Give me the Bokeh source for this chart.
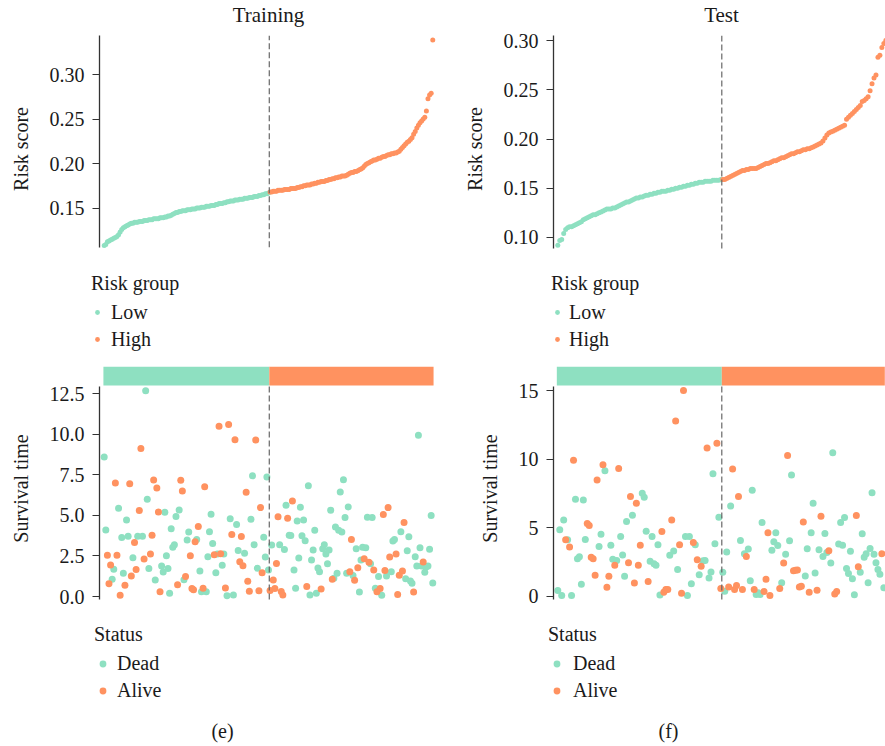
from bokeh.plotting import figure
from bokeh.layouts import row, column
from bokeh.models import (Legend, LegendItem, FixedTicker, Range1d, Label, NumeralTickFormatter)
from bokeh.embed import file_html
from bokeh.resources import INLINE

FONT = "Liberation Serif"
GREEN = "#8EE0C1"
ORANGE = "#FF9260"
FS = "20px"
TXT = "#1a1a1a"
NAN = float("nan")

# ---------------- data ----------------
panel_titles = ["Training", "Test"]
panel_captions = ["(e)", "(f)"]

train_risk_low = [0.108, 0.109, 0.112, 0.113, 0.114, 0.115, 0.116, 0.117, 0.118, 0.120,
                  0.123, 0.126, 0.128, 0.129, 0.130, 0.131, 0.132, 0.133, 0.133, 0.134,
                  0.134, 0.134, 0.135, 0.135, 0.135, 0.136, 0.136, 0.136, 0.137, 0.137,
                  0.137, 0.138, 0.138, 0.138, 0.138, 0.139, 0.139, 0.139, 0.140, 0.140,
                  0.141, 0.141, 0.142, 0.143, 0.144, 0.145, 0.145, 0.146, 0.146, 0.147,
                  0.147, 0.147, 0.148, 0.148, 0.148, 0.149, 0.149, 0.149, 0.150, 0.150,
                  0.150, 0.151, 0.151, 0.151, 0.152, 0.152, 0.152, 0.153, 0.153, 0.153,
                  0.154, 0.154, 0.155, 0.155, 0.155, 0.156, 0.156, 0.157, 0.157, 0.158,
                  0.158, 0.158, 0.159, 0.159, 0.159, 0.160, 0.160, 0.160, 0.161, 0.161,
                  0.161, 0.162, 0.162, 0.162, 0.163, 0.163, 0.163, 0.164, 0.164, 0.165,
                  0.165, 0.166, 0.166, 0.167]
train_risk_high = [0.168, 0.168, 0.169, 0.169, 0.169, 0.170, 0.170, 0.170, 0.170, 0.171,
                   0.171, 0.171, 0.171, 0.172, 0.172, 0.172, 0.172, 0.173, 0.173, 0.174,
                   0.174, 0.175, 0.175, 0.176, 0.176, 0.176, 0.177, 0.177, 0.178, 0.178,
                   0.179, 0.179, 0.180, 0.180, 0.180, 0.181, 0.181, 0.182, 0.182, 0.183,
                   0.183, 0.184, 0.184, 0.185, 0.185, 0.186, 0.186, 0.186, 0.187, 0.188,
                   0.189, 0.190, 0.190, 0.191, 0.191, 0.192, 0.193, 0.194, 0.195, 0.197,
                   0.199, 0.200, 0.201, 0.202, 0.203, 0.204, 0.204, 0.205, 0.206, 0.206,
                   0.207, 0.208, 0.208, 0.209, 0.210, 0.210, 0.211, 0.211, 0.212, 0.212,
                   0.213, 0.214, 0.216, 0.218, 0.220, 0.222, 0.224, 0.225, 0.227, 0.229,
                   0.233, 0.236, 0.240, 0.243, 0.246, 0.248, 0.250, 0.252, 0.259, 0.273,
                   0.277, 0.279, 0.339]
train_time = [8.6, 4.1, 2.55, 0.78, 1.94, 1.06, 1.68, 7.0, 2.55, 5.44,
              0.08, 3.64, 1.43, 0.7, 4.72, 3.72, 6.95, 1.27, 2.39, 3.33,
              1.66, 3.72, 5.3, 9.12, 3.72, 2.31, 12.68, 6.0, 1.72, 2.62,
              3.78, 7.18, 1.02, 6.69, 5.21, 0.29, 1.88, 1.51, 5.19, 2.52,
              1.72, 0.2, 4.17, 3.03, 3.19, 4.93, 0.72, 5.34, 7.16, 6.5,
              1.04, 1.23, 3.48, 3.97, 2.52, 0.49, 0.41, 3.37, 3.52, 4.31,
              1.57, 0.29, 0.51, 6.77, 0.29, 2.45, 3.99, 5.07, 3.27, 2.58,
              1.47, 2.62, 10.5, 2.64, 1.92, 2.62, 0.53, 0.04, 10.61, 4.79,
              3.82, 0.1, 9.67, 4.44, 2.84, 2.15, 3.7, 1.9, 2.66, 6.42,
              0.94, 0.33, 4.76, 7.44, 3.19, 9.65, 1.74, 0.35, 5.48, 1.47,
              3.66, 2.43, 7.36, 1.64,
              0.37, 3.17, 1.02, 0.49, 2.04, 4.91, 3.19, 0.31, 0.1, 2.9,
              5.62, 4.83, 3.78, 3.76, 5.89, 1.64, 0.51, 4.66, 2.37, 5.5,
              3.74, 4.72, 3.44, 0.61, 6.83, 0.1, 2.25, 2.86, 4.09, 0.2,
              1.76, 1.53, 0.47, 2.94, 3.19, 2.62, 2.02, 2.86, 5.32, 1.06,
              1.12, 4.29, 1.43, 4.09, 6.44, 3.97, 7.2, 4.87, 1.43, 5.52,
              1.53, 3.52, 1.29, 1.0, 2.94, 1.78, 0.27, 2.25, 3.03, 2.33,
              3.0, 4.89, 2.11, 2.02, 4.87, 1.64, 0.51, 0.29, 1.23, 0.49,
              0.08, 5.05, 1.6, 1.27, 5.48, 2.43, 1.53, 3.42, 3.52, 2.62,
              0.12, 1.31, 3.99, 1.57, 4.56, 1.1, 2.82, 3.68, 0.96, 0.82,
              0.27, 2.45, 1.88, 9.94, 3.0, 1.88, 2.13, 1.49, 1.84, 1.88,
              2.92, 4.99, 0.84]
train_status = list("DDAAADDAAD" "ADDADDAADA" "ADAADADDDA" "AADAAADDDD" "DDDDDDADAA"
                    "DADDAAAADA" "DDAADDDDDA" "DDAADDADAD" "ADADDAAADA" "AADDDADAAA"
                    "DDDD"
                    "ADAAAADAAD" "DADDADDDDD" "DDDADDDDDD" "DDADDDDDDA" "DDDDDDDDDD"
                    "AADADADDDA" "DDADDADADA" "DAADAADDDA" "AADAADDDDD" "ADDDDDADDD"
                    "DDD")

test_risk_low = [0.092, 0.097, 0.098, 0.104, 0.108, 0.110, 0.111, 0.111, 0.112, 0.113,
                 0.114, 0.115, 0.116, 0.118, 0.119, 0.120, 0.121, 0.122, 0.123, 0.123,
                 0.124, 0.125, 0.126, 0.127, 0.128, 0.129, 0.129, 0.129, 0.130, 0.130,
                 0.131, 0.132, 0.133, 0.134, 0.135, 0.136, 0.136, 0.137, 0.138, 0.139,
                 0.140, 0.140, 0.141, 0.141, 0.142, 0.143, 0.143, 0.144, 0.144, 0.145,
                 0.145, 0.146, 0.146, 0.147, 0.147, 0.147, 0.148, 0.148, 0.149, 0.149,
                 0.150, 0.150, 0.151, 0.151, 0.152, 0.152, 0.153, 0.153, 0.154, 0.154,
                 0.155, 0.155, 0.156, 0.156, 0.156, 0.157, 0.157, 0.157, 0.157, 0.158,
                 0.158, 0.158, 0.158, 0.159]
test_risk_high = [0.159, 0.159, 0.160, 0.161, 0.162, 0.163, 0.164, 0.165, 0.166, 0.167,
                  0.168, 0.168, 0.169, 0.169, 0.170, 0.170, 0.170, 0.170, 0.171, 0.172,
                  0.173, 0.174, 0.175, 0.175, 0.176, 0.177, 0.178, 0.178, 0.179, 0.180,
                  0.181, 0.181, 0.182, 0.183, 0.184, 0.185, 0.185, 0.186, 0.187, 0.187,
                  0.188, 0.189, 0.189, 0.190, 0.190, 0.191, 0.192, 0.193, 0.194, 0.195,
                  0.196, 0.198, 0.201, 0.204, 0.206, 0.207, 0.208, 0.209, 0.210, 0.211,
                  0.212, 0.213, 0.214, 0.220, 0.222, 0.224, 0.226, 0.228, 0.230, 0.232,
                  0.234, 0.238, 0.239, 0.241, 0.243, 0.249, 0.256, 0.262, 0.265, 0.283,
                  0.285, 0.293, 0.297, 0.300]
test_time = [0.43, 4.86, 0.07, 5.58, 4.13, 4.13, 3.6, 0.07, 9.93, 7.08,
             2.75, 2.9, 0.89, 7.03, 4.15, 5.31, 5.17, 2.85, 2.75, 1.55,
             8.48, 3.65, 4.54, 9.59, 9.15, 0.68, 1.47, 3.74, 2.71, 2.27,
             2.63, 9.32, 4.37, 3.02, 1.47, 5.46, 2.46, 7.29, 5.92, 0.99,
             6.79, 2.27, 3.74, 7.51, 7.22, 4.76, 1.09, 2.56, 4.37, 2.39,
             2.27, 3.77, 0.1, 4.73, 0.31, 0.51, 0.51, 3.0, 5.58, 3.31,
             12.78, 1.96, 3.77, 0.24, 15.0, 4.37, 0.07, 4.37, 0.92, 3.94,
             3.77, 2.68, 1.59, 2.2, 2.61, 2.63, 10.82, 1.35, 1.79, 8.94,
             3.84, 11.16, 5.77, 0.58,
             1.76, 0.39, 3.24, 0.7, 6.59, 9.28, 0.51, 0.8, 7.29, 4.08,
             0.51, 3.12, 2.92, 3.45, 1.14, 7.73, 0.51, 0.14, 0.27, 0.14,
             5.39, 0.36, 1.26, 4.64, 0.07, 3.36, 3.99, 4.64, 3.72, 0.58,
             1.01, 2.44, 3.07, 10.27, 4.06, 8.84, 1.88, 1.91, 1.93, 0.7,
             0.75, 5.43, 1.5, 3.48, 0.31, 4.64, 6.79, 1.71, 0.46, 3.41,
             5.85, 2.92, 4.59, 3.21, 3.33, 2.44, 10.46, 0.19, 0.36, 3.82,
             5.39, 3.74, 5.75, 2.03, 1.67, 3.29, 1.3, 0.12, 5.89, 2.17,
             1.76, 4.57, 2.85, 3.12, 1.01, 3.5, 7.56, 3.07, 2.46, 1.96,
             1.62, 3.12, 0.63]
test_status = list("DDDDADADAD" "DDDDDAAAAA" "ADDADAADDA" "DADDDDAADA" "AAADDDADDD"
                   "DDDAAAADAD" "ADAAADDDDA" "DADADDADDD" "DADA"
                   "DDDADAAAAD" "ADADDDADDD" "DAAAADDDDA" "DADADDAAAA" "AADDADDDAD"
                   "ADDDADDAAD" "DDDDDDDDAA" "DDDDDDDDDD" "DAD")

risk_groups = ["Low", "High"]
status_keys = ["D", "A"]
STATUS_NAME = {"D": "Dead", "A": "Alive"}
STATUS_COLOR = {"D": GREEN, "A": ORANGE}
GROUP_COLOR = {"Low": GREEN, "High": ORANGE}


def style_yaxis(p, label, ticks, fmt, bounds):
    p.xaxis.visible = False
    p.grid.visible = False
    ax = p.yaxis[0]
    ax.bounds = bounds
    ax.ticker = FixedTicker(ticks=ticks, minor_ticks=[])
    ax.formatter = NumeralTickFormatter(format=fmt)
    ax.axis_line_color = "#333333"
    ax.axis_line_width = 1.3
    ax.major_tick_line_color = "#333333"
    ax.major_tick_line_width = 1.2
    ax.major_tick_out = 7
    ax.major_tick_in = 0
    ax.minor_tick_out = 0
    ax.minor_tick_in = 0
    ax.major_label_text_font = FONT
    ax.major_label_text_font_size = FS
    ax.major_label_text_color = TXT
    ax.major_label_standoff = 8
    ax.axis_label = label
    ax.axis_label_text_font = FONT
    ax.axis_label_text_font_size = FS
    ax.axis_label_text_font_style = "normal"
    ax.axis_label_text_color = TXT
    ax.axis_label_standoff = 15


def make_fig(width, height, xr, yr, left, right, top, bottom):
    return figure(width=width, height=height, x_range=Range1d(*xr), y_range=Range1d(*yr),
                  output_backend="svg", toolbar_location=None,
                  min_border_left=left, min_border_right=right,
                  min_border_top=top, min_border_bottom=bottom,
                  outline_line_color=None)


def text_fig(width, height):
    p = figure(width=width, height=height, x_range=Range1d(0, width), y_range=Range1d(0, height),
               output_backend="svg", toolbar_location=None, min_border=0,
               x_axis_location=None, y_axis_location=None, outline_line_color=None)
    p.grid.visible = False
    return p


def title_fig(width, text, cx):
    p = text_fig(width, 30)
    p.add_layout(Label(x=cx, y=16, text=text, text_font=FONT, text_font_size="21px",
                       text_align="center", text_baseline="middle", text_color=TXT))
    return p


def risk_panel(low, high, width, xr, yr, bounds, ticks, border_left, border_right):
    p = make_fig(width, 232, xr, yr, border_left, border_right, 5, 0)
    n_low = len(low)
    p.scatter(list(range(n_low)), low, size=5, fill_color=GREEN, line_color=None)
    p.scatter(list(range(n_low, n_low + len(high))), high, size=5,
              fill_color=ORANGE, line_color=None)
    p.segment(x0=[n_low - 0.5], y0=[bounds[0]], x1=[n_low - 0.5], y1=[bounds[1]],
              line_color="#666666", line_width=1.2, line_dash="6 3")
    style_yaxis(p, "Risk score", ticks, "0.00", bounds)
    return p


def surv_panel(times, status, n_low, width, xr, yr, bounds, ticks, fmt, border_left, border_right):
    p = make_fig(width, 254, xr, yr, border_left, border_right, 10, 0)
    n = len(times)
    bar_lo = bounds[1] + (yr[1] - bounds[1]) * 0.05
    p.quad(left=[-0.5, n_low - 0.5], right=[n_low - 0.5, n - 0.5],
           bottom=[bar_lo, bar_lo], top=[yr[1], yr[1]],
           fill_color=[GREEN, ORANGE], line_color=None)
    for key in status_keys:
        xs = [i for i in range(n) if status[i] == key]
        ys = [times[i] for i in range(n) if status[i] == key]
        p.scatter(xs, ys, size=7, fill_color=STATUS_COLOR[key], line_color=None)
    p.segment(x0=[n_low - 0.5], y0=[bounds[0]], x1=[n_low - 0.5], y1=[bounds[1]],
              line_color="#666666", line_width=1.2, line_dash="6 3")
    style_yaxis(p, "Survival time", ticks, fmt, bounds)
    return p


def legend_fig(width, height, title, labels, colors, glyph, standoff, loc,
               caption=None, cap_pos=None):
    p = text_fig(width, height)
    items = []
    for lab, col in zip(labels, colors):
        r = p.scatter([NAN], [NAN], size=glyph * 0.4, fill_color=col, line_color=None)
        items.append(LegendItem(label=lab, renderers=[r]))
    leg = Legend(items=items, title=title, location=loc, orientation="vertical",
                 border_line_color=None, background_fill_alpha=0, padding=0, margin=0,
                 spacing=3, label_height=24, glyph_width=glyph, glyph_height=glyph,
                 label_standoff=standoff, title_standoff=5,
                 label_text_font=FONT, label_text_font_size=FS, label_text_color=TXT,
                 title_text_font=FONT, title_text_font_size=FS, title_text_font_style="normal",
                 title_text_color=TXT)
    p.add_layout(leg)
    if caption:
        p.add_layout(Label(x=cap_pos[0], y=cap_pos[1], text=caption, text_font=FONT,
                           text_font_size=FS, text_align="center", text_baseline="middle",
                           text_color=TXT))
    return p


train_xr = (-2.95, 210.85)
test_xr = (-2.19, 166.85)

t_l = title_fig(442, panel_titles[0], 268)
t_r = title_fig(443, panel_titles[1], 279)

tl = risk_panel(train_risk_low, train_risk_high, 442, train_xr,
                (0.0888, 0.344), (0.106, 0.344), [0.15, 0.20, 0.25, 0.30], 99, 2)
tr = risk_panel(test_risk_low, test_risk_high, 443, test_xr,
                (0.0746, 0.3051), (0.0888, 0.3051), [0.10, 0.15, 0.20, 0.25, 0.30], 111, 0)

grp_colors = [GROUP_COLOR[g] for g in risk_groups]
lg_l = legend_fig(442, 94, "Risk group", risk_groups, grp_colors, 12, 8, (91, 5))
lg_r = legend_fig(443, 94, "Risk group", risk_groups, grp_colors, 12, 6, (109, 5))

bl = surv_panel(train_time, train_status, len(train_risk_low), 442, train_xr,
                (-0.863, 14.18), (-0.18, 12.95), [0, 2.5, 5, 7.5, 10, 12.5], "0.0", 99, 2)
br = surv_panel(test_time, test_status, len(test_risk_low), 443, test_xr,
                (-1.02, 16.75), (-0.22, 15.29), [0, 5, 10, 15], "0", 111, 0)

st_labels = [STATUS_NAME[k] for k in status_keys]
st_colors = [STATUS_COLOR[k] for k in status_keys]
ls_l = legend_fig(442, 136, "Status", st_labels, st_colors, 17, 6, (94, 44),
                  panel_captions[0], (222, 16))
ls_r = legend_fig(443, 136, "Status", st_labels, st_colors, 17, 8, (106, 44),
                  panel_captions[1], (226, 16))

layout = column(row(t_l, t_r), row(tl, tr), row(lg_l, lg_r), row(bl, br), row(ls_l, ls_r))
open("out.html", "w").write(file_html(layout, INLINE))
